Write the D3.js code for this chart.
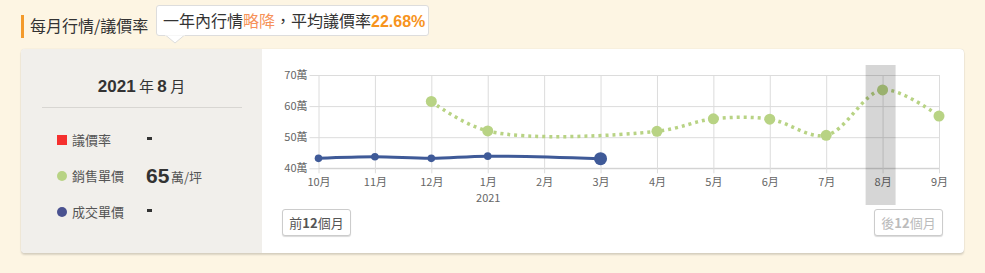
<!DOCTYPE html>
<html>
<head>
<meta charset="utf-8">
<script src="https://cdn.jsdelivr.net/npm/d3@7"></script>
<style>
  html,body{margin:0;padding:0;}
  body{width:985px;height:273px;background:#fdf5e3;position:relative;overflow:hidden;
       font-family:"Noto Sans CJK TC","Noto Sans",sans-serif;color:#333;}
  .abs{position:absolute;}
  .title-bar{left:21px;top:15px;width:3px;height:23px;background:#f39a2b;}
  .title{left:30px;top:13px;font-size:16px;color:#333;line-height:24px;}
  .tip{left:156px;top:5px;width:273px;height:31px;background:#fff;border:1px solid #ddd;border-radius:3px;
       box-sizing:border-box;font-size:16px;line-height:29px;padding-left:6px;white-space:nowrap;}
  .card{left:21px;top:49px;width:943px;height:204px;background:#fff;border-radius:4px;
        box-shadow:0 2px 2px rgba(0,0,0,0.14),0 0 1px rgba(0,0,0,0.2);overflow:hidden;}
  .side{left:0;top:0;width:241px;height:204px;background:#f1efeb;}
  .date{left:0;width:241px;top:26px;text-align:center;font-size:15px;line-height:22px;}
  .date b{font-size:17px;font-family:"Liberation Sans",Arial,sans-serif;}
  .hr{left:21px;top:58px;width:200px;height:1px;background:#d8d6d2;}
  .btn{top:160px;height:27px;box-sizing:border-box;border:1px solid #ccc;border-radius:3px;background:#fff;
       font-size:13px;line-height:25px;text-align:center;box-shadow:0 1px 1px rgba(0,0,0,0.15);}
</style>
</head>
<body>
<div class="abs title-bar"></div>
<div class="abs title">每月行情/議價率</div>
<div class="abs card">
  <div class="abs side">
    <div class="abs date"><b>2021</b> 年 <b>8</b> 月</div>
    <div class="abs hr"></div>
  </div>
  <div class="abs btn" style="left:261px;width:69px;color:#555;">前<b>12</b>個月</div>
  <div class="abs btn" style="left:853px;width:69px;color:#bbb;">後<b>12</b>個月</div>
</div>
<div class="abs tip">一年內行情<span style="color:#f6925a;">略降</span>，平均議價率<b style="color:#f7941d;font-family:'Liberation Sans',Arial,sans-serif;">22.68%</b></div>
<svg id="chart" class="abs" style="left:0;top:0;" width="985" height="273"></svg>
<script>
// 月份
var months=["10月","11月","12月","1月","2月","3月","4月","5月","6月","7月","8月","9月"];
var yearLabels=["","","","2021","","","","","","","",""];
// 成交單價 (萬)
var dealPrice=[43.2,43.7,43.2,43.9,null,43.1,null,null,null,null,null,null];
// 銷售單價 (萬)
var salesPrice=[null,null,61.5,52.0,null,null,51.9,55.9,55.8,50.6,65.2,56.8];
var yTicks=[40,50,60,70];
var selected="8月";

var svg=d3.select("#chart");
var xScale=d3.scalePoint().domain(months).range([318.5,939]);
var yScale=d3.scaleLinear().domain([40,70]).range([168.3,75]);
var font="'Noto Sans CJK TC',sans-serif";

// 網格 + 座標
var yAxis=d3.axisLeft(yScale).tickValues(yTicks).tickSize(-(939-318.5)).tickPadding(3)
  .tickFormat(function(d){return d+"萬";});
var gy=svg.append("g").attr("transform","translate(318.5,0)").call(yAxis);
gy.select(".domain").remove();
gy.selectAll(".tick line").attr("stroke","#dcdcdc").attr("x1",-9);
gy.selectAll("text").attr("fill","#666").attr("font-size",11).attr("x",-11).attr("font-family",font);

var xAxis=d3.axisBottom(xScale).tickPadding(8);
var gx=svg.append("g").attr("transform","translate(0,168.3)").call(xAxis);
gx.select(".domain").attr("stroke","#cfcfcf").attr("d","M318.5,0H939");
gx.selectAll(".tick line").attr("stroke","#dcdcdc").attr("y1",-(168.3-75)).attr("y2",5);
gx.selectAll("text").attr("fill","#666").attr("font-size",11).attr("y",10).attr("font-family",font);
gx.selectAll(".tick").append("text")
  .text(function(d,i){return yearLabels[i];})
  .attr("fill","#666").attr("font-size",11).attr("y",25.5).attr("dy","0.71em")
  .attr("text-anchor","middle").attr("font-family",font);

var line=d3.line()
  .x(function(d){return xScale(d.m);})
  .y(function(d){return yScale(d.v);})
  .curve(d3.curveCatmullRom.alpha(0.5));

function pts(arr){
  return months.map(function(m,i){return {m:m,v:arr[i]};}).filter(function(d){return d.v!=null;});
}

// 銷售單價
var sp=pts(salesPrice);
svg.append("path").attr("d",line(sp)).attr("fill","none")
  .attr("stroke","#b8d384").attr("stroke-width",3.5).attr("stroke-dasharray","3,4");
svg.selectAll(".sp").data(sp).enter().append("circle")
  .attr("cx",function(d){return xScale(d.m);}).attr("cy",function(d){return yScale(d.v);})
  .attr("r",5.5).attr("fill","#b8d384");

// 成交單價
var dp=pts(dealPrice);
svg.append("path").attr("d",line(dp)).attr("fill","none")
  .attr("stroke","#3f5a98").attr("stroke-width",3);
svg.selectAll(".dp").data(dp).enter().append("circle")
  .attr("cx",function(d){return xScale(d.m);}).attr("cy",function(d){return yScale(d.v);})
  .attr("r",function(d,i){return i==dp.length-1?6.5:3.8;}).attr("fill","#3f5a98");

// 選取月份
svg.append("rect").attr("x",xScale(selected)-17).attr("y",65).attr("width",30).attr("height",140)
  .attr("fill","rgba(0,0,0,0.16)");

// 左側說明
var lg=svg.append("g").attr("font-family",font);
var legend=[{name:"議價率",shape:"rect",color:"#f5302e",val:"-"},
            {name:"銷售單價",shape:"circle",color:"#b8d384",val:"65"},
            {name:"成交單價",shape:"circle",color:"#4a5290",val:"-"}];
legend.forEach(function(d,i){
  var cy=140+i*36;
  if(d.shape=="rect") lg.append("rect").attr("x",57).attr("y",cy-5).attr("width",10).attr("height",10).attr("fill",d.color);
  else lg.append("circle").attr("cx",62).attr("cy",cy).attr("r",5).attr("fill",d.color);
  lg.append("text").attr("x",72).attr("y",cy+4.5).attr("font-size",13).attr("fill","#555").text(d.name);
  if(d.val=="-") lg.append("rect").attr("x",147).attr("y",cy-3).attr("width",5).attr("height",3).attr("fill","#333");
  else{
    lg.append("text").attr("x",146).attr("y",cy+7).attr("font-size",21).attr("font-weight","bold")
      .attr("font-family","'Liberation Sans',Arial,sans-serif").attr("fill","#333").text(d.val);
    lg.append("text").attr("x",171).attr("y",cy+6).attr("font-size",13).attr("fill","#555").text("萬/坪");
  }
});

// 提示框箭頭
svg.append("path").attr("d","M166,35.5L175,43L184,35.5").attr("fill","#fff").attr("stroke","#ddd");
svg.append("rect").attr("x",165).attr("y",34).attr("width",20).attr("height",1.5).attr("fill","#fff");
</script>
</body>
</html>
